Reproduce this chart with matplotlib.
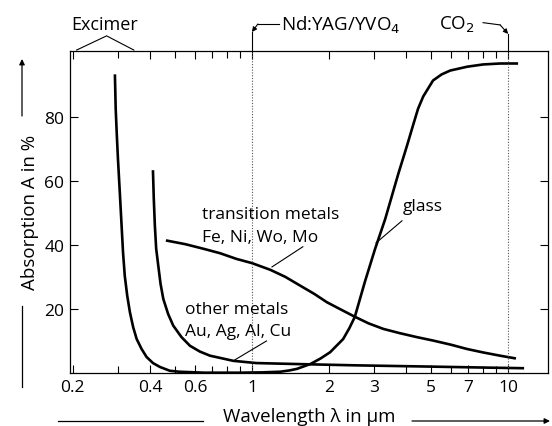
import matplotlib
matplotlib.use("Agg")
import matplotlib.pyplot as plt
import matplotlib.transforms as mtransforms
from matplotlib.ticker import FixedLocator, NullFormatter

plt.rcParams['font.family'] = ['Open Sans', 'DejaVu Sans']

# glass
glass_x = [0.292, 0.294, 0.297, 0.30, 0.305, 0.31, 0.314, 0.319, 0.326, 0.334, 0.344,
           0.355, 0.371, 0.388, 0.411, 0.437, 0.478, 0.52, 0.65, 0.9, 1.1,
           1.29, 1.4, 1.5, 1.69, 1.85, 2.02, 2.27, 2.4, 2.52, 2.76, 3.02, 3.31,
           3.72, 4.03, 4.26, 4.45, 4.66, 5.09, 5.5, 5.94, 6.92, 7.98, 9.3, 10.8]
glass_y = [92.8, 82.5, 74.2, 66.9, 56.5, 46, 37.7, 30.3, 24.2, 19, 14.3,
           10.6, 7.5, 5, 3.1, 1.9, 0.7, 0.4, 0.1, 0.1, 0.2,
           0.4, 0.8, 1.3, 2.8, 4.5, 6.5, 10.6, 14, 17.5, 28.5, 38.6, 48,
           62, 71, 77.5, 82.5, 86.3, 91.3, 93.2, 94.4, 95.6, 96.3, 96.6, 96.6]

# other metals (Au, Ag, Al, Cu)
other_x = [0.411, 0.414, 0.418, 0.423, 0.431, 0.44, 0.451, 0.471, 0.493, 0.531,
           0.573, 0.626, 0.686, 0.762, 0.845, 1.04, 1.49, 2.5, 4.96, 8.0, 11.4]
other_y = [62.9, 54.4, 46, 38.8, 33.5, 27.8, 23.1, 18.4, 14.8, 11.2,
           8.5, 6.7, 5.4, 4.6, 3.8, 3.1, 2.8, 2.4, 2.0, 1.7, 1.5]

# transition metals (Fe, Ni, Wo, Mo)
trans_x = [0.467, 0.55, 0.645, 0.75, 0.871, 1.0, 1.18, 1.35, 1.54, 1.75, 1.96, 2.2,
           2.5, 2.85, 3.26, 3.79, 4.4, 5.11, 6.0, 6.9, 8.0, 9.3, 10.6]
trans_y = [41.3, 40.2, 38.8, 37.4, 35.6, 34.3, 32.2, 30.0, 27.3, 24.7, 22.1, 20.0,
           17.7, 15.5, 13.75, 12.4, 11.2, 10.1, 8.8, 7.5, 6.4, 5.4, 4.6]

# laser wavelengths (dotted markers)
nd_yag = 1.0
co2 = 10.0

xticks = [0.2, 0.4, 0.6, 1, 2, 3, 5, 7, 10]
xticklabels = ['0.2', '0.4', '0.6', '1', '2', '3', '5', '7', '10']
xminor = [0.3, 0.5, 0.7, 0.8, 0.9, 4, 6, 8, 9]
yticks = [20, 40, 60, 80]

fig = plt.figure(figsize=(5.52, 4.27), dpi=100)
ax = fig.add_axes([70/552, 1-374/427, 478/552, 322/427])

ax.plot(glass_x, glass_y, color='black', lw=1.9)
ax.plot(other_x, other_y, color='black', lw=1.9)
ax.plot(trans_x, trans_y, color='black', lw=1.9)

ax.axvline(nd_yag, color='#555555', lw=0.8, ls=(0, (1, 1.5)))
ax.axvline(co2, color='#555555', lw=0.8, ls=(0, (1, 1.5)))

ax.set_xscale('log')
ax.set_xlim(0.195, 14.3)
ax.set_ylim(0, 100.5)
ax.xaxis.set_major_locator(FixedLocator(xticks))
ax.xaxis.set_minor_locator(FixedLocator(xminor))
ax.xaxis.set_minor_formatter(NullFormatter())
ax.set_xticklabels(xticklabels)
ax.set_yticks(yticks)
ax.tick_params(which='both', direction='in', top=True, right=True, labelsize=12.5,
               width=0.8, color='black')
ax.tick_params(axis='x', which='major', length=6, pad=4)
ax.tick_params(axis='x', which='minor', length=5)
ax.tick_params(axis='y', length=6, pad=4)
for s in ax.spines.values():
    s.set_linewidth(0.9)

# curve labels and leaders
fs = 12.5
ax.text(0.638, 49.7, 'transition metals', fontsize=fs, va='center')
ax.text(0.638, 42.5, 'Fe, Ni, Wo, Mo', fontsize=fs, va='center')
ax.plot([1.58, 1.197], [39.4, 33.1], color='black', lw=0.8)
ax.text(0.547, 20.0, 'other metals', fontsize=fs, va='center')
ax.text(0.547, 13.1, 'Au, Ag, Al, Cu', fontsize=fs, va='center')
ax.plot([1.14, 0.858], [10.0, 4.1], color='black', lw=0.8)
ax.text(3.89, 52.0, 'glass', fontsize=fs, va='center')
ax.plot([3.85, 3.05], [47.5, 40.6], color='black', lw=0.8)

# annotations above the axes
tr = mtransforms.blended_transform_factory(ax.transData, ax.transAxes)
ax.text(0.267, 1.084, 'Excimer', transform=tr, fontsize=13, ha='center', va='center')
ax.plot([0.207, 0.271, 0.346], [1.003, 1.047, 1.003], transform=tr,
        color='black', lw=0.8, clip_on=False)

ax.text(1.30, 1.084, 'Nd:YAG/YVO$_4$', transform=tr, fontsize=13.5, va='center')
ax.plot([1.275, 1.055], [1.084, 1.084], transform=tr, color='black', lw=0.8, clip_on=False)
ax.annotate('', xy=(nd_yag, 1.059), xycoords=tr, xytext=(1.055, 1.084), textcoords=tr,
            arrowprops=dict(arrowstyle='-|>', color='black', lw=0.8,
                            mutation_scale=7, shrinkA=0, shrinkB=0))
ax.plot([nd_yag, nd_yag], [1.0, 1.059], transform=tr, color='black', lw=0.8, clip_on=False)

ax.text(5.38, 1.084, 'CO$_2$', transform=tr, fontsize=13.5, va='center')
ax.plot([7.98, 9.3], [1.088, 1.081], transform=tr, color='black', lw=0.8, clip_on=False)
ax.annotate('', xy=(co2, 1.053), xycoords=tr, xytext=(9.3, 1.081), textcoords=tr,
            arrowprops=dict(arrowstyle='-|>', color='black', lw=0.8,
                            mutation_scale=7, shrinkA=0, shrinkB=0))
ax.plot([co2, co2], [1.0, 1.053], transform=tr, color='black', lw=0.8, clip_on=False)

# axis titles with arrow lines
fig.text(30/552, 1-212/427, 'Absorption A in %', rotation=90, fontsize=13.5,
         ha='center', va='center')
ax.annotate('', xy=(22, 427-60), xycoords='figure pixels', xytext=(22, 427-117),
            arrowprops=dict(arrowstyle='-|>', color='black', lw=0.9,
                            mutation_scale=8, shrinkA=0, shrinkB=0))
fig.add_artist(plt.Line2D([22/552, 22/552], [1-307/427, 1-388/427], color='black', lw=0.9))

fig.text(309/552, 1-417/427, 'Wavelength λ in µm', fontsize=13.5, ha='center', va='center')
fig.add_artist(plt.Line2D([58/552, 203/552], [1-422/427, 1-422/427], color='black', lw=0.9))
ax.annotate('', xy=(550, 427-422), xycoords='figure pixels', xytext=(412, 427-422),
            arrowprops=dict(arrowstyle='-|>', color='black', lw=0.9,
                            mutation_scale=8, shrinkA=0, shrinkB=0))

fig.savefig('out.png', dpi=100)
